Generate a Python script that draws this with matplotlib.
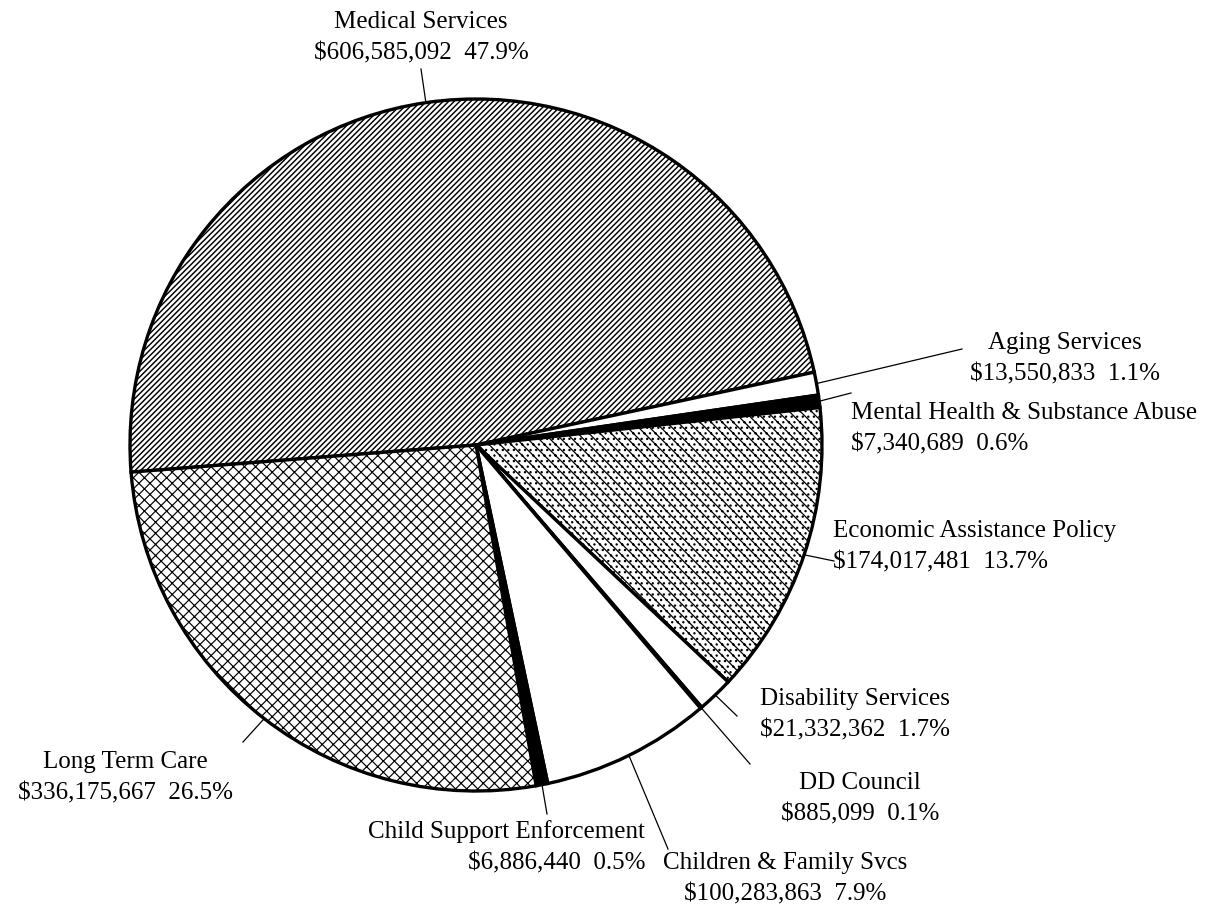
import matplotlib
matplotlib.use("Agg")
import matplotlib.pyplot as plt
import numpy as np

plt.rcParams['font.family'] = ['Liberation Serif', 'DejaVu Serif']
plt.rcParams['hatch.color'] = 'black'
plt.rcParams['hatch.linewidth'] = 1.0

# data
names = ['Medical Services', 'Aging Services', 'Mental Health & Substance Abuse',
         'Economic Assistance Policy', 'Disability Services', 'DD Council',
         'Children & Family Svcs', 'Child Support Enforcement', 'Long Term Care']
amounts = [606585092, 13550833, 7340689, 174017481, 21332362, 885099,
           100283863, 6886440, 336175667]
percents = [47.9, 1.1, 0.6, 13.7, 1.7, 0.1, 7.9, 0.5, 26.5]

# look of each slice
faces = ['white', 'white', 'black', 'white', 'white', 'white', 'white', 'black', 'white']
hatches = ['//////', None, None, '\\\\\\...', None, None, None, None, 'xxx']
hatch_lw = [1.05, 1, 1, 0.9, 1, 1, 1, 1, 0.85]

# label placement in pixels (x, y from top), alignment, leader end point
H = 912
label_pos = [(421, 38, 'center'), (1065, 359, 'center'), (851, 429, 'left'),
             (833, 547, 'left'), (855, 715, 'center'), (860, 799, 'center'),
             (785, 879, 'center'), (645, 847, 'right'), (125, 778, 'center')]
leader_end = [(421, 70), (962, 350), (851, 394), (834, 562), (737, 717),
              (750, 765), (668, 850), (547, 815), (243, 743)]

cx, cy, r = 476, H - 446, 346

fig = plt.figure(figsize=(12.1, 9.12), dpi=100)
ax = fig.add_axes([0, 0, 1, 1])
wedges, _ = ax.pie(amounts, startangle=184.5, counterclock=False, center=(cx, cy),
                   radius=r, colors=faces,
                   wedgeprops=dict(edgecolor='black', linewidth=2.4))
for w, h, lw in zip(wedges, hatches, hatch_lw):
    if h:
        w.set_hatch(h)
        if hasattr(w, 'set_hatch_linewidth'):
            w.set_hatch_linewidth(lw)

for i, w in enumerate(wedges):
    mid = np.deg2rad((w.theta1 + w.theta2) / 2)
    x0, y0 = cx + r * np.cos(mid), cy + r * np.sin(mid)
    ex, ey = leader_end[i]
    ax.plot([x0, ex], [y0, H - ey], color='black', lw=0.9)
    lx, ly, ha = label_pos[i]
    txt = f"{names[i]}\n${amounts[i]:,}  {percents[i]}%"
    ax.text(lx, H - ly, txt, ha=ha, va='center', multialignment=ha,
            fontsize=18, linespacing=1.55)

ax.set_xlim(0, 1210)
ax.set_ylim(0, H)
ax.set_aspect('equal')
ax.axis('off')
fig.savefig('out.png', dpi=100)
